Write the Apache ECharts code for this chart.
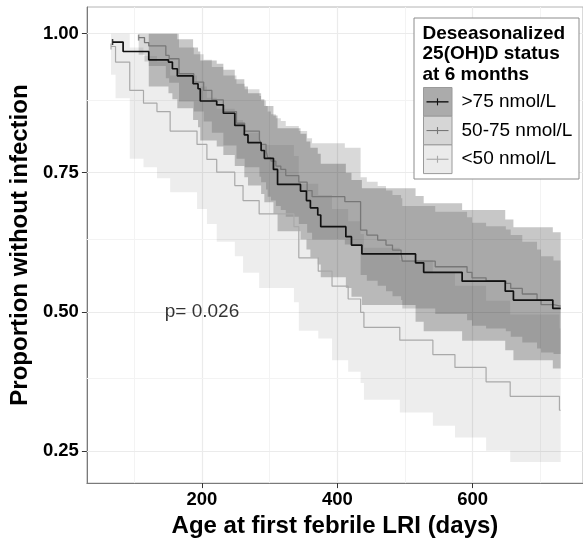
<!DOCTYPE html>
<html>
<head>
<meta charset="utf-8">
<script src="https://cdn.jsdelivr.net/npm/echarts@6/dist/echarts.min.js"></script>
<style>
  html, body { margin: 0; padding: 0; background: #fff; }
  #chart { width: 583px; height: 543px; }
</style>
</head>
<body>
<div id="chart"></div>
<script>
(function () {
    'use strict';
    var FONT = '"Liberation Sans", Arial, Helvetica, sans-serif';

    // axis ticks and grid lines
    var xTicks = [200, 400, 600];
    var xMinor = [100, 300, 500, 700];
    var yTicks = [0.25, 0.50, 0.75, 1.00];
    var yMinor = [0.375, 0.625, 0.875];

    // >75 nmol/L
    var hiTime  = [67.9, 83.5, 121.4, 150.5, 156.3, 163.6, 186.9, 194.2, 197.5, 221.8, 231.6, 248.5, 262.6, 268.0, 287.4, 292.2, 305.6, 311.7, 345.6, 354.4, 360.2, 371.1, 375.5, 412.6, 420.9, 436.3, 515.6, 527.6, 584.4, 648.1, 660.2, 718.4, 730];
    var hiSurv  = [0.985, 0.968, 0.953, 0.949, 0.937, 0.924, 0.910, 0.901, 0.879, 0.872, 0.857, 0.835, 0.818, 0.804, 0.790, 0.776, 0.756, 0.729, 0.717, 0.700, 0.687, 0.674, 0.653, 0.635, 0.620, 0.604, 0.588, 0.571, 0.555, 0.537, 0.521, 0.506, 0.506];
    var hiLower = [null, null, 0.905, 0.893, 0.882, 0.866, 0.845, 0.832, 0.808, 0.797, 0.782, 0.762, 0.742, 0.727, 0.712, 0.697, 0.676, 0.645, 0.630, 0.612, 0.598, 0.585, 0.562, 0.543, 0.527, 0.512, 0.482, 0.465, 0.448, 0.431, 0.413, 0.398, 0.398];
    var hiUpper = [null, null, 1.000, 1.000, 1.000, 0.990, 0.975, 0.968, 0.952, 0.946, 0.935, 0.918, 0.905, 0.893, 0.882, 0.870, 0.853, 0.830, 0.820, 0.806, 0.795, 0.784, 0.766, 0.750, 0.737, 0.722, 0.708, 0.695, 0.683, 0.666, 0.652, 0.643, 0.643];

    // 50-75 nmol/L
    var midTime  = [106.4, 115.1, 121.4, 146.6, 151.5, 166.1, 187.9, 202.5, 214.6, 231.6, 251.0, 263.1, 284.9, 287.4, 294.7, 297.1, 301.9, 309.2, 316.5, 323.8, 343.1, 355.4, 362.7, 411.1, 434.4, 443.6, 459.6, 471.9, 481.5, 494.2, 496.0, 544.7, 591.7, 599.0, 619.8, 649.0, 656.2, 673.3, 695.1, 701.0, 719.4, 730];
    var midSurv  = [0.993, 0.984, 0.978, 0.961, 0.955, 0.928, 0.913, 0.898, 0.881, 0.860, 0.839, 0.825, 0.810, 0.801, 0.789, 0.777, 0.771, 0.762, 0.756, 0.745, 0.733, 0.718, 0.707, 0.698, 0.647, 0.638, 0.629, 0.620, 0.611, 0.605, 0.591, 0.581, 0.571, 0.561, 0.556, 0.551, 0.542, 0.532, 0.521, 0.513, 0.510, 0.510];
    var midLower = [0.962, 0.950, 0.942, 0.920, 0.912, 0.878, 0.860, 0.842, 0.822, 0.799, 0.775, 0.760, 0.743, 0.733, 0.720, 0.707, 0.700, 0.690, 0.683, 0.671, 0.658, 0.642, 0.630, 0.621, 0.566, 0.556, 0.547, 0.537, 0.528, 0.521, 0.506, 0.496, 0.485, 0.475, 0.470, 0.465, 0.455, 0.445, 0.434, 0.427, 0.424, 0.424];
    var midUpper = [1.000, 1.000, 1.000, 1.000, 1.000, 0.975, 0.963, 0.953, 0.940, 0.925, 0.910, 0.900, 0.888, 0.880, 0.870, 0.860, 0.855, 0.848, 0.843, 0.834, 0.825, 0.812, 0.803, 0.795, 0.742, 0.734, 0.726, 0.718, 0.710, 0.704, 0.690, 0.680, 0.670, 0.660, 0.654, 0.648, 0.638, 0.626, 0.612, 0.600, 0.592, 0.592];

    // <50 nmol/L
    var lowTime  = [65.6, 72.3, 93.3, 113.6, 133.5, 153.0, 192.7, 207.3, 221.8, 248.5, 260.7, 284.5, 335.9, 343.1, 371.8, 392.2, 416.0, 434.4, 439.3, 492.3, 541.2, 573.8, 619.8, 655.4, 728.2, 730];
    var lowSurv  = [0.977, 0.949, 0.898, 0.875, 0.860, 0.825, 0.801, 0.774, 0.751, 0.727, 0.700, 0.676, 0.653, 0.597, 0.573, 0.546, 0.523, 0.499, 0.472, 0.449, 0.423, 0.400, 0.374, 0.348, 0.323, 0.323];
    var lowLower = [0.926, 0.884, 0.775, 0.760, 0.740, 0.715, 0.685, 0.658, 0.626, 0.600, 0.570, 0.543, 0.517, 0.466, 0.452, 0.413, 0.392, 0.372, 0.342, 0.319, 0.295, 0.274, 0.250, 0.230, 0.230, 0.230];
    var lowUpper = [1.000, 1.000, 0.975, 0.960, 0.950, 0.925, 0.905, 0.885, 0.865, 0.845, 0.822, 0.800, 0.780, 0.730, 0.710, 0.685, 0.663, 0.640, 0.615, 0.593, 0.570, 0.547, 0.520, 0.495, 0.470, 0.470];

    var groupNames = ['>75 nmol/L', '50-75 nmol/L', '<50 nmol/L'];
    var pText = 'p= 0.026';
    var pAt = [200, 0.50];

    var lineColors = ['#111111', '#777777', '#a9a9a9'];
    var bandColors = ['rgba(0,0,0,0.22)', 'rgba(0,0,0,0.15)', 'rgba(0,0,0,0.07)'];
    var keyColors = ['#ababab', '#d6d6d6', '#ebebeb'];

    function zip(t, v) {
        return t.map(function (d, i) { return [d, v[i]]; });
    }

    function band(times, lower, upper, color) {
        return {
            type: 'custom',
            silent: true,
            z: 2,
            data: [[times[0], lower[0]]],
            renderItem: function (params, api) {
                var top = [], bot = [];
                for (var i = 0; i < times.length - 1; i++) {
                    if (lower[i] == null || upper[i] == null) continue;
                    top.push(api.coord([times[i], upper[i]]), api.coord([times[i + 1], upper[i]]));
                    bot.push(api.coord([times[i], lower[i]]), api.coord([times[i + 1], lower[i]]));
                }
                return {
                    type: 'polygon',
                    shape: { points: top.concat(bot.reverse()) },
                    style: { fill: color }
                };
            }
        };
    }

    function curve(times, surv, color, width) {
        return {
            type: 'line',
            step: 'end',
            silent: true,
            z: 5,
            symbol: 'none',
            data: zip(times, surv),
            lineStyle: { color: color, width: width }
        };
    }

    function startTick(times, surv, color) {
        return {
            type: 'scatter',
            silent: true,
            z: 6,
            symbol: 'rect',
            symbolSize: [1.5, 6],
            data: [[times[0], surv[0]]],
            itemStyle: { color: color }
        };
    }

    var gridLines = [];
    xMinor.forEach(function (v) { gridLines.push({ xAxis: v, lineStyle: { color: '#f3f3f3', width: 1 } }); });
    xTicks.forEach(function (v) { gridLines.push({ xAxis: v, lineStyle: { color: '#ebebeb', width: 1.2 } }); });
    yMinor.forEach(function (v) { gridLines.push({ yAxis: v, lineStyle: { color: '#f3f3f3', width: 1 } }); });
    yTicks.forEach(function (v) { gridLines.push({ yAxis: v, lineStyle: { color: '#ebebeb', width: 1.2 } }); });

    var labelStyle = { fontSize: 18.5, fontWeight: 'bold', color: '#000', fontFamily: FONT };

    // legend drawn by hand, ggplot style
    var legend = [
        { type: 'rect', z: 100, shape: { x: 414, y: 18, width: 165, height: 161 }, style: { fill: '#fff', stroke: '#8c8c8c', lineWidth: 1 } },
        { type: 'text', z: 101, x: 422.5, y: 33.5, style: { text: 'Deseasonalized', font: 'bold 19px ' + FONT, fill: '#000', verticalAlign: 'middle' } },
        { type: 'text', z: 101, x: 422.5, y: 54, style: { text: '25(OH)D status', font: 'bold 19px ' + FONT, fill: '#000', verticalAlign: 'middle' } },
        { type: 'text', z: 101, x: 422.5, y: 74.5, style: { text: 'at 6 months', font: 'bold 19px ' + FONT, fill: '#000', verticalAlign: 'middle' } }
    ];
    groupNames.forEach(function (name, i) {
        var y0 = 87.5 + i * 28.7;
        var cy = y0 + 14.35;
        legend.push({ type: 'rect', z: 101, shape: { x: 423.5, y: y0, width: 28.5, height: 28.7 }, style: { fill: keyColors[i], stroke: '#9a9a9a', lineWidth: 1 } });
        legend.push({ type: 'line', z: 102, shape: { x1: 426.5, y1: cy, x2: 448.5, y2: cy }, style: { stroke: lineColors[i], lineWidth: i === 0 ? 1.4 : 1.1 } });
        legend.push({ type: 'line', z: 102, shape: { x1: 437.5, y1: cy - 3.5, x2: 437.5, y2: cy + 3.5 }, style: { stroke: lineColors[i], lineWidth: 1.1 } });
        legend.push({ type: 'text', z: 102, x: 461.5, y: cy, style: { text: name, font: '19px ' + FONT, fill: '#000', verticalAlign: 'middle' } });
    });

    var myChart = echarts.init(document.getElementById('chart'), null, { renderer: 'canvas' });
    var option = {
        animation: false,
        backgroundColor: '#fff',
        grid: { left: 83, top: 7, width: 503, height: 483, show: true, backgroundColor: '#fff', borderColor: '#b4b4b4', borderWidth: 1 },
        xAxis: {
            type: 'value', min: 30, max: 763,
            axisLine: { show: true, onZero: false, lineStyle: { color: '#7a7a7a', width: 1 } },
            axisTick: { show: true, length: 5, customValues: xTicks, lineStyle: { color: '#333' } },
            axisLabel: Object.assign({ customValues: xTicks, margin: 7 }, labelStyle),
            splitLine: { show: false },
            name: 'Age at first febrile LRI (days)',
            nameLocation: 'middle', nameGap: 21,
            nameTextStyle: { fontSize: 24, fontWeight: 'bold', color: '#000', fontFamily: FONT }
        },
        yAxis: {
            type: 'value', min: 0.192, max: 1.048,
            axisLine: { show: true, onZero: false, lineStyle: { color: '#7a7a7a', width: 1 } },
            axisTick: { show: true, length: 5, customValues: yTicks, lineStyle: { color: '#333' } },
            axisLabel: Object.assign({ customValues: yTicks, margin: 8, formatter: function (v) { return v.toFixed(2); } }, labelStyle),
            splitLine: { show: false },
            name: 'Proportion without infection',
            nameLocation: 'middle', nameGap: 49, nameRotate: 90,
            nameTextStyle: { fontSize: 24, fontWeight: 'bold', color: '#000', fontFamily: FONT }
        },
        graphic: legend,
        series: [
            {
                type: 'scatter', data: [], silent: true, z: 1,
                markLine: { silent: true, z: 1, symbol: ['none', 'none'], label: { show: false }, animation: false, data: gridLines, lineStyle: { type: 'solid' } }
            },
            band(lowTime, lowLower, lowUpper, bandColors[2]),
            band(midTime, midLower, midUpper, bandColors[1]),
            band(hiTime, hiLower, hiUpper, bandColors[0]),
            curve(lowTime, lowSurv, lineColors[2], 1.2),
            curve(midTime, midSurv, lineColors[1], 1.3),
            curve(hiTime, hiSurv, lineColors[0], 1.7),
            startTick(lowTime, lowSurv, lineColors[2]),
            startTick(midTime, midSurv, lineColors[1]),
            startTick(hiTime, hiSurv, lineColors[0]),
            {
                type: 'scatter', silent: true, z: 7, symbolSize: 0,
                data: [pAt],
                label: { show: true, position: 'inside', formatter: pText, fontSize: 19, color: '#000', fontFamily: FONT }
            }
        ]
    };
    myChart.setOption(option, true);
})();
</script>
</body>
</html>
